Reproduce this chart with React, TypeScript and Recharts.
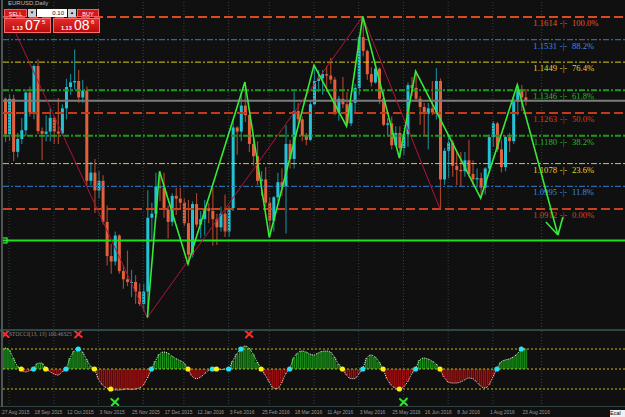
import React from 'react';
import { ComposedChart, Bar, Line, XAxis, YAxis, ReferenceLine } from 'recharts';

// ---------- data (2-day candles, EURUSD daily 27 Aug 2015 - 23 Aug 2016) ----------
const dateLabels = ['27 Aug 2015', '18 Sep 2015', '12 Oct 2015', '3 Nov 2015', '25 Nov 2015', '17 Dec 2015', '12 Jan 2016', '3 Feb 2016', '25 Feb 2016', '18 Mar 2016', '11 Apr 2016', '3 May 2016', '25 May 2016', '16 Jun 2016', '8 Jul 2016', '1 Aug 2016', '23 Aug 2016'];

const opens = [1.1315, 1.1185, 1.1315, 1.1121, 1.1168, 1.1200, 1.1338, 1.1265, 1.1435, 1.1197, 1.1187, 1.1195, 1.1245, 1.1195, 1.1188, 1.1280, 1.1358, 1.1375, 1.1380, 1.1320, 1.1345, 1.1015, 1.1045, 1.0980, 1.1015, 1.0865, 1.0740, 1.0720, 1.0815, 1.0685, 1.0655, 1.0645, 1.0645, 1.0610, 1.0565, 1.0610, 1.0880, 1.0895, 1.0995, 1.0990, 1.0910, 1.0865, 1.0960, 1.0950, 1.0935, 1.0860, 1.0745, 1.0930, 1.0855, 1.0875, 1.0915, 1.0905, 1.0875, 1.0845, 1.0895, 1.0830, 1.0915, 1.1210, 1.1195, 1.1290, 1.1255, 1.1150, 1.1105, 1.1015, 1.1020, 1.0935, 1.0870, 1.0955, 1.1010, 1.0995, 1.1150, 1.1095, 1.1270, 1.1240, 1.1180, 1.1165, 1.1295, 1.1380, 1.1390, 1.1405, 1.1400, 1.1385, 1.1265, 1.1315, 1.1295, 1.1225, 1.1300, 1.1355, 1.1540, 1.1490, 1.1405, 1.1375, 1.1425, 1.1315, 1.1220, 1.1225, 1.1145, 1.1190, 1.1135, 1.1185, 1.1365, 1.1355, 1.1315, 1.1285, 1.1260, 1.1280, 1.1265, 1.1380, 1.1020, 1.1125, 1.1155, 1.1070, 1.1055, 1.1050, 1.1090, 1.1040, 1.1020, 1.1025, 1.0990, 1.1060, 1.1175, 1.1225, 1.1130, 1.1065, 1.1175, 1.1160, 1.1305, 1.1350, 1.1320];
const highs = [1.1320, 1.1332, 1.1330, 1.1190, 1.1245, 1.1350, 1.1360, 1.1440, 1.1460, 1.1210, 1.1255, 1.1280, 1.1250, 1.1318, 1.1295, 1.1388, 1.1405, 1.1495, 1.1420, 1.1385, 1.1360, 1.1085, 1.1095, 1.1050, 1.1035, 1.0925, 1.0785, 1.0830, 1.0820, 1.0705, 1.0760, 1.0690, 1.0670, 1.0640, 1.0640, 1.0981, 1.0935, 1.1045, 1.1050, 1.1045, 1.0925, 1.0970, 1.0990, 1.0990, 1.0950, 1.0945, 1.0940, 1.0970, 1.0905, 1.0945, 1.0935, 1.0990, 1.0895, 1.0920, 1.0965, 1.0925, 1.1240, 1.1215, 1.1340, 1.1376, 1.1260, 1.1170, 1.1160, 1.1050, 1.1065, 1.0955, 1.0960, 1.1045, 1.1060, 1.1218, 1.1165, 1.1342, 1.1300, 1.1250, 1.1190, 1.1305, 1.1438, 1.1420, 1.1420, 1.1435, 1.1465, 1.1395, 1.1325, 1.1395, 1.1340, 1.1310, 1.1370, 1.1545, 1.1616, 1.1495, 1.1430, 1.1445, 1.1430, 1.1345, 1.1245, 1.1250, 1.1215, 1.1215, 1.1190, 1.1375, 1.1395, 1.1416, 1.1325, 1.1300, 1.1300, 1.1380, 1.1427, 1.1390, 1.1135, 1.1185, 1.1165, 1.1120, 1.1120, 1.1120, 1.1165, 1.1090, 1.1060, 1.1045, 1.1065, 1.1185, 1.1234, 1.1230, 1.1165, 1.1180, 1.1190, 1.1325, 1.1366, 1.1365, 1.1350];
const lows = [1.1157, 1.1160, 1.1087, 1.1100, 1.1150, 1.1180, 1.1250, 1.1240, 1.1185, 1.1090, 1.1160, 1.1160, 1.1150, 1.1150, 1.1180, 1.1240, 1.1330, 1.1350, 1.1300, 1.1300, 1.0997, 1.1000, 1.0897, 1.0950, 1.0855, 1.0705, 1.0675, 1.0705, 1.0675, 1.0620, 1.0630, 1.0590, 1.0565, 1.0557, 1.0540, 1.0515, 1.0800, 1.0880, 1.0940, 1.0880, 1.0805, 1.0850, 1.0890, 1.0910, 1.0850, 1.0711, 1.0735, 1.0845, 1.0805, 1.0815, 1.0860, 1.0778, 1.0780, 1.0830, 1.0810, 1.0810, 1.0905, 1.1110, 1.1160, 1.1230, 1.1120, 1.1070, 1.1000, 1.0960, 1.0920, 1.0808, 1.0830, 1.0940, 1.0960, 1.0822, 1.1060, 1.1060, 1.1220, 1.1160, 1.1145, 1.1160, 1.1290, 1.1340, 1.1330, 1.1340, 1.1370, 1.1255, 1.1235, 1.1280, 1.1215, 1.1215, 1.1260, 1.1330, 1.1470, 1.1385, 1.1360, 1.1370, 1.1295, 1.1215, 1.1180, 1.1130, 1.1140, 1.1098, 1.1110, 1.1140, 1.1325, 1.1305, 1.1220, 1.1180, 1.1130, 1.1255, 1.1240, 1.0912, 1.1000, 1.1025, 1.1030, 1.1000, 1.0995, 1.1030, 1.1030, 1.1000, 1.0990, 1.0952, 1.0965, 1.1045, 1.1140, 1.1120, 1.1046, 1.1050, 1.1120, 1.1150, 1.1255, 1.1270, 1.1290];
const closes = [1.1185, 1.1315, 1.1121, 1.1168, 1.1200, 1.1338, 1.1265, 1.1435, 1.1197, 1.1187, 1.1195, 1.1245, 1.1195, 1.1188, 1.1280, 1.1358, 1.1375, 1.1380, 1.1320, 1.1345, 1.1015, 1.1045, 1.0980, 1.1015, 1.0865, 1.0740, 1.0720, 1.0815, 1.0685, 1.0655, 1.0645, 1.0645, 1.0610, 1.0565, 1.0610, 1.0880, 1.0895, 1.0995, 1.0990, 1.0910, 1.0865, 1.0960, 1.0950, 1.0935, 1.0860, 1.0745, 1.0930, 1.0855, 1.0875, 1.0915, 1.0905, 1.0875, 1.0845, 1.0895, 1.0830, 1.0915, 1.1210, 1.1195, 1.1290, 1.1255, 1.1150, 1.1105, 1.1015, 1.1020, 1.0935, 1.0870, 1.0955, 1.1010, 1.0995, 1.1150, 1.1095, 1.1270, 1.1240, 1.1180, 1.1165, 1.1295, 1.1380, 1.1390, 1.1405, 1.1400, 1.1385, 1.1265, 1.1315, 1.1295, 1.1225, 1.1300, 1.1355, 1.1540, 1.1490, 1.1405, 1.1375, 1.1425, 1.1315, 1.1220, 1.1225, 1.1145, 1.1190, 1.1135, 1.1185, 1.1365, 1.1355, 1.1315, 1.1285, 1.1260, 1.1280, 1.1265, 1.1380, 1.1020, 1.1125, 1.1155, 1.1070, 1.1055, 1.1050, 1.1090, 1.1040, 1.1020, 1.1025, 1.0990, 1.1060, 1.1175, 1.1225, 1.1130, 1.1065, 1.1175, 1.1160, 1.1305, 1.1350, 1.1320, 1.1308];

// oscillator (STOCCI) values per candle
const oscValues = [105, 95, 55, 15, -2, -15, -8, 3, 28, 30, 2, -12, -25, -30, -15, 2, 55, 90, 103, 85, 50, 15, -3, -50, -80, -95, -102, -105, -105, -103, -100, -102, -100, -95, -80, -45, -2, 40, 75, 85, 80, 65, 52, 42, 30, -2, -35, -48, -42, -25, -8, 2, -1, -3, -1, 3, 40, 75, 100, 115, 105, 75, 35, 3, -30, -65, -95, -98, -70, -25, 2, 55, 80, 90, 85, 75, 70, 80, 88, 90, 85, 60, 25, 0, -30, -48, -48, -25, 3, 55, 70, 60, 35, -3, -50, -80, -95, -101, -90, -65, -25, 3, 45, 55, 50, 40, 25, -3, -40, -65, -70, -70, -65, -55, -45, -48, -65, -85, -95, -80, -40, 2, 35, 45, 50, 60, 75, 100, 100.46];

const cyanDotIdx = [7, 15, 18, 36, 51, 55, 58, 70, 88, 101, 121, 127];
const cyanDotLevel = [0, 0, 100, 0, 0, 0, 100, 0, 0, 0, 0, 100];
const yellowDotIdx = [4, 10, 22, 26, 45, 52, 63, 83, 93, 97, 107];
const yellowDotLevel = [0, 0, 0, -100, 0, 0, 0, 0, 0, -100, 0];
const sellIdx = [0, 18, 60];
const buyIdx = [27, 98];
const SELL_LEVEL = 175;
const BUY_LEVEL = -165;

// zigzags
const greenZzIdx = [35, 38, 45, 59, 65, 76, 84, 88, 97, 101, 117, 126, 136];
const greenZzPrice = [1.0515, 1.1050, 1.0711, 1.1376, 1.0808, 1.1438, 1.1215, 1.1616, 1.1098, 1.1416, 1.0952, 1.1366, 1.0817];
const redZzIdx = [0, 35, 88, 107];
const redZzPrice = [1.1640, 1.0515, 1.1616, 1.0912];

// fibonacci levels
const fibPrices = [1.1614, 1.1531, 1.1449, 1.1346, 1.1263, 1.1180, 1.1078, 1.0995, 1.0912];
const fibLabels = ['1.1614', '1.1531', '1.1449', '1.1346', '1.1263', '1.1180', '1.1078', '1.0995', '1.0912'];
const fibPercents = ['100.0%', '88.2%', '76.4%', '61.8%', '50.0%', '38.2%', '23.6%', '11.8%', '0.00%'];
const fibColors = ['#dc4a1e', '#2d7fd6', '#d8cb12', '#1f9a1f', '#c23a18', '#1f9a1f', '#d8cb12', '#2d7fd6', '#c8421e'];
const fibTextColors = ['#e0582c', '#3d8ee0', '#e2d82a', '#2ab82a', '#d2401e', '#2ab82a', '#e2d82a', '#3d8ee0', '#d24a26'];
const fibDash = ['9 4', '6 2 2 2', '6 2 2 2', '6 2 2 2', '9 4', '6 2 2 2', '6 2 2 2', '6 2 2 2', '9 4'];
const fibWidth = [2, 1, 1, 2, 2, 2, 1, 1, 2];

const bidPrice = 1.13075;
const supportPrice = 1.0797;
const gridIdx = [1, 12, 23, 34, 44, 55, 65, 76, 87, 98, 109, 120, 132];

const SLOTS = 153;
const PMIN = 1.04696;
const PMAX = 1.16762;

const rows = Array.from({ length: SLOTS }, (_, k) => {
  const r: any = { k };
  if (k < opens.length) {
    r.range = [lows[k], highs[k]];
    r.o = opens[k]; r.h = highs[k]; r.l = lows[k]; r.c = closes[k];
  }
  if (k < oscValues.length) r.osc = oscValues[k];
  const g = greenZzIdx.indexOf(k); if (g >= 0) r.zzG = greenZzPrice[g];
  const rd = redZzIdx.indexOf(k); if (rd >= 0) r.zzR = redZzPrice[rd];
  const cd = cyanDotIdx.indexOf(k); if (cd >= 0) r.cyan = cyanDotLevel[cd];
  const yd = yellowDotIdx.indexOf(k); if (yd >= 0) r.yellow = yellowDotLevel[yd];
  if (sellIdx.includes(k)) r.sell = SELL_LEVEL;
  if (buyIdx.includes(k)) r.buy = BUY_LEVEL;
  return r;
});

const lastGreen = greenZzIdx[greenZzIdx.length - 1];

const Candle = (props: any) => {
  const { x, y, width, height, payload } = props;
  if (!payload || payload.h == null || !isFinite(y) || !isFinite(height)) return <g />;
  const top = Math.min(y, y + height);
  const h = Math.abs(height);
  const span = payload.h - payload.l || 1e-6;
  const py = (p: number) => top + ((payload.h - p) / span) * h;
  const up = payload.c >= payload.o;
  const cx = x + width / 2;
  const bTop = py(Math.max(payload.o, payload.c));
  const bBot = py(Math.min(payload.o, payload.c));
  return (
    <g>
      <line x1={cx} x2={cx} y1={top} y2={top + h} stroke={up ? '#17808e' : '#a4432c'} strokeWidth={1.2} />
      <rect x={x} y={bTop} width={width} height={Math.max(1, bBot - bTop)} fill={up ? '#25c2d4' : '#e3603d'} />
    </g>
  );
};

const OscBar = (props: any) => {
  const { x, y, width, height, payload } = props;
  if (!payload || payload.osc == null || !isFinite(y) || !isFinite(height)) return <g />;
  const top = Math.min(y, y + height);
  const h = Math.abs(height);
  const pos = payload.osc >= 0;
  return (
    <g>
      <rect x={x} y={top} width={width} height={h} fill={pos ? '#0b4f0b' : '#640707'} />
      <rect x={x + 0.4} y={top} width={1} height={h} fill={pos ? '#1f9c1f' : '#a81515'} />
      <rect x={x + 2.4} y={top} width={1} height={h} fill={pos ? '#1a8a1a' : '#9a1212'} />
    </g>
  );
};

const fibLabel = (i: number) => (props: any) => {
  const vb = props.viewBox || {};
  const right = (vb.x || 0) + (vb.width || 0);
  const yb = (vb.y || 0) + 9;
  return (
    <g fontFamily="'Liberation Serif', 'DejaVu Serif', serif" fontSize={8.6} fill={fibTextColors[i]}>
      <text x={right - 68} y={yb} textAnchor="end">{fibLabels[i]}</text>
      <text x={right - 61.5} y={yb} textAnchor="middle">-|-</text>
      <text x={right - 53} y={yb} textAnchor="start">{fibPercents[i]}</text>
    </g>
  );
};

const supportLabel = (props: any) => {
  const vb = props.viewBox || {};
  return <rect x={(vb.x || 0) - 1} y={(vb.y || 0) - 2.5} width={5} height={5} fill="none" stroke="#2cff2c" strokeWidth={1.2} />;
};

const GreenDot = (props: any) => {
  const { cx, cy, payload, index } = props;
  if (!payload || payload.k !== lastGreen || typeof cy !== 'number') return <g key={'gd' + index} />;
  return (
    <g key={'gd' + index} stroke="#36ea36" strokeWidth={1.6} fill="none">
      <line x1={cx} y1={cy} x2={cx - 12} y2={cy - 13} />
      <line x1={cx} y1={cy} x2={cx + 5} y2={cy - 18} />
    </g>
  );
};

const XMark = (color: string) => (props: any) => {
  const { cx, cy, index } = props;
  if (typeof cy !== 'number' || !isFinite(cy)) return <g key={color + index} />;
  return (
    <g key={color + index} stroke={color} strokeWidth={2} strokeLinecap="round">
      <line x1={cx - 3.5} y1={cy - 3} x2={cx + 3.5} y2={cy + 3} />
      <line x1={cx + 3.5} y1={cy - 3.5} x2={cx - 3} y2={cy + 3.5} />
    </g>
  );
};

const DateTick = (props: any) => {
  const { x, y, payload } = props;
  const v = payload ? payload.value : -1;
  if (v % 8 !== 0 || v / 8 >= dateLabels.length) return <g />;
  return (
    <text x={x - 3} y={y + 7} fontSize={4.9} fill="#9a9a9a" fontFamily="'Liberation Sans', Arial, sans-serif" textAnchor="start">
      {dateLabels[v / 8]}
    </text>
  );
};

const btn = (left: number, w: number, txt: string, bg: string, color: string, fs: number): any => ({
  position: 'absolute', left, top: 9, width: w, height: 8, background: bg, color, fontSize: fs,
  lineHeight: '8px', textAlign: 'center', fontFamily: "'Liberation Sans', Arial, sans-serif", boxSizing: 'border-box',
});

export default function App() {
  return (
    <div style={{ position: 'absolute', left: 0, top: 0, width: 625, height: 417, background: '#101010', overflow: 'hidden' }}>
      <div style={{ position: 'absolute', left: 0, top: 0 }}>
        <ComposedChart width={625} height={330} data={rows} margin={{ top: 0, right: 0, bottom: 0, left: 3 }}>
          <XAxis dataKey="k" type="category" hide />
          <YAxis type="number" domain={[PMIN, PMAX]} hide allowDataOverflow />
          {gridIdx.map((g) => (
            <ReferenceLine key={'vg' + g} x={g} stroke="#324343" strokeDasharray="1 2" />
          ))}
          {fibPrices.map((p, i) => (
            <ReferenceLine key={'fib' + i} y={p} stroke={fibColors[i]} strokeWidth={fibWidth[i]} strokeDasharray={fibDash[i]} label={fibLabel(i)} />
          ))}
          <ReferenceLine y={bidPrice} stroke="#7c7c7c" strokeWidth={2} />
          <Bar dataKey="range" barSize={3} shape={Candle} isAnimationActive={false} />
          <ReferenceLine y={supportPrice} stroke="#1fe01f" strokeWidth={2} label={supportLabel} />
          <Line dataKey="zzR" type="linear" stroke="#b01538" strokeWidth={1} dot={false} connectNulls isAnimationActive={false} />
          <Line dataKey="zzG" type="linear" stroke="#36ea36" strokeWidth={1.6} dot={GreenDot} connectNulls isAnimationActive={false} />
        </ComposedChart>
      </div>

      <div style={{ position: 'absolute', left: 0, top: 330 }}>
        <ComposedChart width={625} height={87} data={rows} margin={{ top: 1, right: 0, bottom: 0, left: 3 }} barCategoryGap={0} barGap={0}>
          <XAxis dataKey="k" type="category" interval={0} tickLine={false} axisLine={false} tickSize={0} tickMargin={0} height={10} tick={DateTick} />
          <YAxis type="number" domain={[-190, 190]} hide allowDataOverflow />
          {gridIdx.map((g) => (
            <ReferenceLine key={'og' + g} x={g} stroke="#324343" strokeDasharray="1 2" />
          ))}
          <Bar dataKey="osc" shape={OscBar} isAnimationActive={false} />
          <ReferenceLine y={100} stroke="#c8b816" strokeDasharray="2 2" />
          <ReferenceLine y={0} stroke="#c8b816" strokeDasharray="2 2" />
          <ReferenceLine y={-100} stroke="#c8b816" strokeDasharray="2 2" />
          <Line dataKey="osc" type="monotone" stroke="#e8e8e8" strokeWidth={1} strokeDasharray="1 1" dot={false} isAnimationActive={false} />
          <Line dataKey="cyan" stroke="none" dot={{ r: 2.6, fill: '#22e4ff', stroke: 'none' }} isAnimationActive={false} />
          <Line dataKey="yellow" stroke="none" dot={{ r: 2.6, fill: '#ffee10', stroke: 'none' }} isAnimationActive={false} />
          <Line dataKey="sell" stroke="none" dot={XMark('#ff2a2a')} isAnimationActive={false} />
          <Line dataKey="buy" stroke="none" dot={XMark('#2ae82a')} isAnimationActive={false} />
        </ComposedChart>
      </div>

      {/* frame lines */}
      <div style={{ position: 'absolute', left: 0, top: 329, width: 625, height: 2, background: '#2e4646' }} />
      <div style={{ position: 'absolute', left: 0, top: 406, width: 625, height: 1, background: '#2e4242' }} />
      <div style={{ position: 'absolute', left: 1, top: 0, width: 2, height: 407, background: '#4c5454' }} />

      {/* indicator caption */}
      <div style={{ position: 'absolute', left: 9, top: 331, fontSize: 5.6, color: '#8c8c8c', fontFamily: "'Liberation Serif', serif", whiteSpace: 'nowrap' }}>
        STOCCI(13, 13) 100.46325
      </div>

      {/* bottom-right tag */}
      <div style={{ position: 'absolute', left: 610, top: 410, width: 15, height: 7, background: '#f0f0f0', color: '#000', fontSize: 5.5, lineHeight: '7px', fontFamily: "'Liberation Sans', sans-serif", overflow: 'hidden' }}>
        Ecal
      </div>

      {/* title */}
      <div style={{ position: 'absolute', left: 8, top: 0, fontSize: 6, lineHeight: '7px', color: '#b8b8b8', fontFamily: "'Liberation Sans', sans-serif", whiteSpace: 'nowrap' }}>
        EURUSD,Daily
      </div>

      {/* one-click trading panel */}
      <div style={{ ...btn(4, 23, 'SELL', '#d21818', '#fff', 5.5), border: '1px solid #f06060' }}>SELL</div>
      <div style={{ ...btn(28, 8, '', '#cfcfcf', '#111', 4.5) }}>▼</div>
      <div style={{ ...btn(37, 30, '', '#ffffff', '#111', 6), textAlign: 'right', paddingRight: 3 }}>0.10</div>
      <div style={{ ...btn(68, 8, '', '#cfcfcf', '#111', 4.5) }}>▲</div>
      <div style={{ ...btn(77, 22, 'BUY', '#d21818', '#fff', 5.5), border: '1px solid #f06060' }}>BUY</div>

      {[{ left: 4, big: '07', sup: '5' }, { left: 53, big: '08', sup: '6' }].map((b) => (
        <div key={b.left} style={{ position: 'absolute', left: b.left, top: 18, width: 47, height: 15, background: 'linear-gradient(#e42a2a, #b80c0c)', border: '1px solid #ff6a6a', boxSizing: 'border-box', color: '#fff', fontFamily: "'Liberation Sans', Arial, sans-serif" }}>
          <span style={{ position: 'absolute', left: 7, top: 6, fontSize: 5.5, fontWeight: 'bold' }}>1.13</span>
          <span style={{ position: 'absolute', left: 20, top: -2, fontSize: 14 }}>{b.big}</span>
          <span style={{ position: 'absolute', left: 37, top: 0, fontSize: 6 }}>{b.sup}</span>
        </div>
      ))}
    </div>
  );
}
